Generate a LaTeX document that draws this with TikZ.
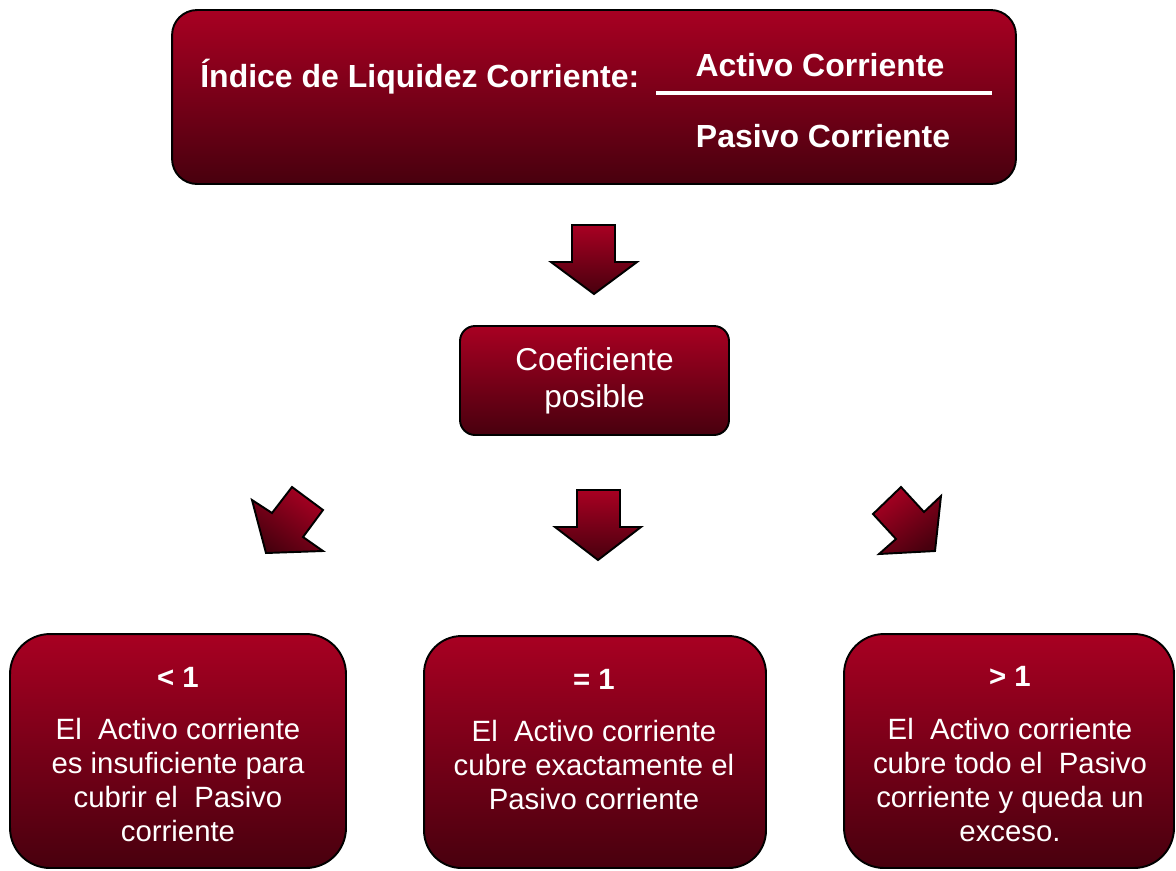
\documentclass[tikz,border=0pt]{standalone}
\usepackage{fontspec}
\setmainfont{Liberation Sans}
\usetikzlibrary{positioning}
\definecolor{wine}{RGB}{168,0,34}
\definecolor{darkwine}{RGB}{72,0,14}
\newcommand{\idxfont}{\fontsize{18.2}{22}\selectfont\bfseries}
\newcommand{\coeffont}{\fontsize{18}{21}\selectfont}
\newcommand{\casefont}{\fontsize{16.7}{19.3}\selectfont}
\tikzset{
  panel/.style={draw=black,line width=1.1pt,top color=wine,bottom color=darkwine,inner sep=0pt},
  label/.style={text=white,inner sep=0pt,align=center},
  blockarrow/.style={draw=black,line width=1.1pt,line join=miter,top color=wine,bottom color=darkwine}
}

\begin{document}
\begin{tikzpicture}[x=0.02cm,y=-0.02cm]
  \useasboundingbox (0,0) rectangle (1176,870);

  % ratio
  \node[panel,rounded corners=0.5cm,minimum width=16.88cm,minimum height=3.48cm] (index) at (594,97) {};
  \node[label,anchor=base west,font=\idxfont] (idxname) at (200,87) {Índice de Liquidez Corriente:};
  \node[label,anchor=base,font=\idxfont] (num) at (820,76) {Activo Corriente};
  \node[label,anchor=base,font=\idxfont] (den) at (823,147) {Pasivo Corriente};
  \draw[white,line width=2pt] (656,93) -- (992,93);

  \shade[blockarrow] (572,225) -- (615,225) -- (615,262) -- (637,262) -- (594,294)
    -- (551,262) -- (572,262) -- cycle;

  % coefficient
  \node[panel,rounded corners=0.3cm,minimum width=5.38cm,minimum height=2.18cm] (coef) at (594.5,380.5) {};
  \node[label,font=\coeffont] (coeftext) at (coef.center) {Coeficiente\\posible};

  \shade[blockarrow,shading angle=-35] (266,553) -- (252,500) -- (272,513) -- (292,487)
    -- (323,510) -- (303,537) -- (323,551) -- cycle;
  \shade[blockarrow] (577,490) -- (620,490) -- (620,527) -- (641,527) -- (598,560)
    -- (555,527) -- (577,527) -- cycle;
  \shade[blockarrow,shading angle=35] (901,487) -- (873,514) -- (896,539) -- (879,554)
    -- (935,551) -- (941,496) -- (924,512) -- cycle;

  % cases
  \node[panel,rounded corners=0.8cm,minimum width=6.72cm,minimum height=4.68cm] (less) at (178,751) {};
  \node[panel,rounded corners=0.75cm,minimum width=6.84cm,minimum height=4.64cm] (equal) at (595,752) {};
  \node[panel,rounded corners=0.8cm,minimum width=6.6cm,minimum height=4.68cm] (more) at (1009,751) {};

  \node[label,font=\casefont\bfseries] (lesshead) at (178,677) {< 1};
  \node[label,font=\casefont\bfseries] (equalhead) at (594,679) {= 1};
  \node[label,font=\casefont\bfseries] (morehead) at (1010,676) {> 1};

  \node[label,font=\casefont] (lessbody) at (178,780) {El\ \ Activo corriente\\es insuficiente para\\cubrir el\ \ Pasivo\\corriente};
  \node[label,font=\casefont] (equalbody) at (594,765) {El\ \ Activo corriente\\cubre exactamente el\\Pasivo corriente};
  \node[label,font=\casefont] (morebody) at (1010,780) {El\ \ Activo corriente\\cubre todo el\ \ Pasivo\\corriente y queda un\\exceso.};
\end{tikzpicture}
\end{document}
